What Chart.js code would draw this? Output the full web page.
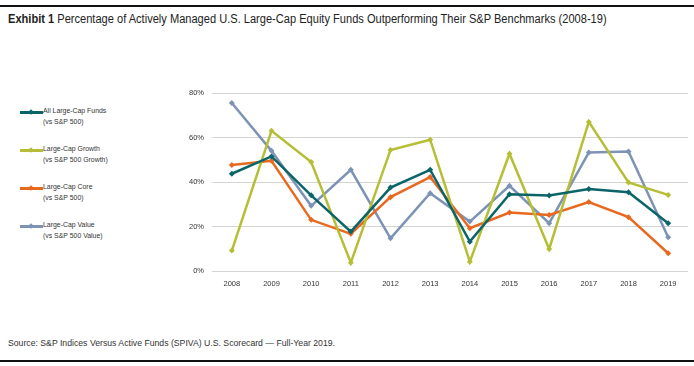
<!DOCTYPE html>
<html>
<head>
<meta charset="utf-8">
<script src="https://cdn.jsdelivr.net/npm/chart.js@4"></script>
<style>
    body { margin: 0; width: 694px; height: 366px; background: #fff; position: relative; overflow: hidden;
           font-family: 'Liberation Sans', Arial, sans-serif; color: #222; }
    .rule { position: absolute; left: 0; width: 694px; height: 2px; background: #111; }
    #title { position: absolute; left: 8px; top: 12px; font-size: 12.5px; white-space: nowrap; transform-origin: 0 0; }
    #title b { font-weight: bold; }
    #legend { position: absolute; left: 20px; top: 105px; }
    .leg-item { position: relative; height: 38px; font-size: 7.5px; line-height: 10.5px; color: #333; }
    .leg-line { position: absolute; left: 0; top: 6px; width: 23px; height: 2.5px; }
    .leg-dot { position: absolute; left: 9px; top: 5px; width: 4px; height: 4px; transform: rotate(45deg); }
    .leg-text { position: absolute; left: 23px; top: 1px; white-space: nowrap; transform: scaleX(0.92); transform-origin: 0 0; }
    #wrap { position: absolute; left: 170px; top: 80px; width: 524px; height: 220px; }
    #source { position: absolute; left: 8px; top: 338px; font-size: 9px; color: #333; white-space: nowrap; transform-origin: 0 0; }
</style>
</head>
<body>
<div class="rule" style="top:5px"></div>
<div id="title"><b>Exhibit 1</b> Percentage of Actively Managed U.S. Large-Cap Equity Funds Outperforming Their S&amp;P Benchmarks (2008-19)</div>
<div id="legend"></div>
<div id="wrap"><canvas id="chart"></canvas></div>
<div id="source">Source: S&amp;P Indices Versus Active Funds (SPIVA) U.S. Scorecard — Full-Year 2019.</div>
<div class="rule" style="top:360px"></div>

<script>
// --- Datos ---
const years = ['2008', '2009', '2010', '2011', '2012', '2013', '2014', '2015', '2016', '2017', '2018', '2019'];

const allLargeCap    = [43.7, 51.5, 34.0, 17.7, 37.5, 45.5, 13.2, 34.5, 33.9, 36.9, 35.4, 21.5];
const largeCapGrowth = [9.2, 63.0, 49.0, 3.7, 54.4, 59.0, 4.2, 52.7, 9.9, 67.0, 39.8, 34.2];
const largeCapCore   = [47.6, 49.5, 23.0, 16.7, 33.2, 42.2, 19.2, 26.3, 25.2, 31.0, 24.2, 8.0];
const largeCapValue  = [75.5, 54.0, 29.3, 45.5, 14.7, 35.0, 22.2, 38.3, 21.5, 53.3, 53.7, 15.2];

const legendLabels = [
    ['All Large-Cap Funds', '(vs S&P 500)'],
    ['Large-Cap Growth', '(vs S&P 500 Growth)'],
    ['Large-Cap Core', '(vs S&P 500)'],
    ['Large-Cap Value', '(vs S&P 500 Value)']
];

const yTicks = [0, 20, 40, 60, 80];

// --- Estilos ---
const colors = ['#0b6468', '#b6be35', '#e8681e', '#7d93b6'];
const seriesData = [allLargeCap, largeCapGrowth, largeCapCore, largeCapValue];

// Ajustar el ancho de los textos (fuente estrecha en el original)
function fitWidth(id, target) {
    const el = document.getElementById(id);
    el.style.transform = `scaleX(${target / el.offsetWidth})`;
}
fitWidth('title', 599);
fitWidth('source', 327);

function makeDataset(i) {
    return {
        label: legendLabels[i].join(' '),
        data: seriesData[i],
        borderColor: colors[i],
        backgroundColor: colors[i],
        borderWidth: 2.5,
        pointStyle: 'rectRot',
        pointRadius: 3,
        pointBorderWidth: 0,
        tension: 0,
        order: i
    };
}

// Leyenda en HTML (lado izquierdo)
const legendEl = document.getElementById('legend');
legendLabels.forEach((lines, i) => {
    const item = document.createElement('div');
    item.className = 'leg-item';
    item.innerHTML = `
        <div class="leg-line" style="background:${colors[i]}"></div>
        <div class="leg-dot" style="background:${colors[i]}"></div>
        <div class="leg-text">${lines[0].replace('&', '&amp;')}<br>${lines[1].replace('&', '&amp;')}</div>
    `;
    legendEl.appendChild(item);
});

const tickFont = { family: "'Liberation Sans', Arial, sans-serif", size: 7.5 };

new Chart(document.getElementById('chart'), {
    type: 'line',
    data: {
        labels: years,
        datasets: [0, 1, 2, 3].map(makeDataset)
    },
    options: {
        responsive: true, maintainAspectRatio: false, animation: false,
        layout: { padding: { top: 13, right: 6, left: 0, bottom: 0 } },
        scales: {
            x: {
                offset: true,
                grid: { display: false, drawTicks: false },
                border: { display: false },
                ticks: { color: '#333', font: tickFont, padding: 8, maxRotation: 0 },
                afterFit: (scale) => { scale.height = 29; }
            },
            y: {
                min: 0, max: 80,
                afterBuildTicks: (scale) => { scale.ticks = yTicks.map(v => ({ value: v })); },
                grid: { color: '#d4d4d4', lineWidth: 1, drawTicks: false },
                border: { display: false },
                ticks: { color: '#333', font: tickFont, padding: 8, callback: v => v + '%' },
                afterFit: (scale) => { scale.width = 42; }
            }
        },
        plugins: {
            legend: { display: false },
            tooltip: { enabled: false }
        }
    }
});
</script>
</body>
</html>
